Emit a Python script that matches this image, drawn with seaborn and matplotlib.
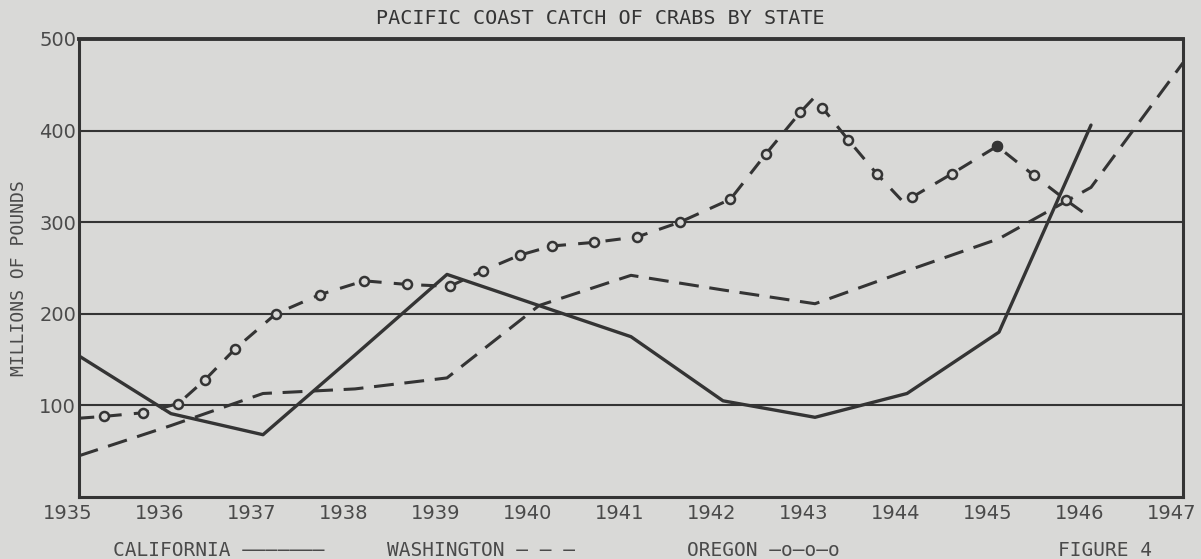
import numpy as np
import pandas as pd
import matplotlib
matplotlib.use("Agg")
import matplotlib.pyplot as plt
import matplotlib.transforms as mtransforms
import seaborn as sns

# values (millions of pounds)
cal_years = [1935, 1936, 1937, 1938, 1939, 1940, 1941, 1942, 1943, 1944, 1945, 1946]
cal_catch = [154, 91, 68, 155, 243, 209, 175, 105, 87, 113, 180, 406]

wash_years = [1935, 1936, 1937, 1938, 1939, 1940, 1941, 1942, 1943, 1944, 1945, 1946, 1947]
wash_catch = [45, 78, 113, 118, 130, 209, 242, 226, 211, 247, 282, 338, 474]

# oregon was plotted with extra in-between points
ore_years = [1935.0, 1935.27, 1935.70, 1936.08, 1936.37, 1936.70, 1937.14, 1937.62,
             1938.10, 1938.57, 1939.03, 1939.39, 1939.79, 1940.14, 1940.60, 1941.07,
             1941.53, 1942.08, 1942.47, 1942.84, 1943.00, 1943.08, 1943.36, 1943.67,
             1943.96, 1944.05, 1944.49, 1944.98, 1945.38, 1945.73, 1945.98]
ore_catch = [86, 88, 92, 102, 128, 162, 200, 221, 236, 232, 230, 247, 264, 274, 278, 284,
             300, 325, 375, 420, 437, 425, 390, 353, 322, 327, 353, 383, 351, 324, 306]
ore_circles = [1, 2, 3, 4, 5, 6, 7, 8, 9, 10, 11, 12, 13, 14, 15, 16, 17, 18, 19,
               21, 22, 23, 25, 26, 27, 28, 29]
ore_filled = [27]

year_ticks = list(range(1935, 1948))
y_ticks = [100, 200, 300, 400, 500]

paper = "#d9d9d7"
ink = "#343434"
text_col = "#4a4a4a"

sns.set_style("white", {"axes.facecolor": paper, "figure.facecolor": paper})

fig = plt.figure(figsize=(12.01, 5.59), dpi=100)
ax = fig.add_axes([79 / 1201, 62 / 559, 1104 / 1201, 458 / 559])
ax.set_facecolor(paper)

cal = pd.DataFrame({"year": cal_years, "catch": cal_catch})
wash = pd.DataFrame({"year": wash_years, "catch": wash_catch})
ore = pd.DataFrame({"year": ore_years, "catch": ore_catch})

sns.lineplot(data=cal, x="year", y="catch", ax=ax, color=ink, linewidth=2.4)
sns.lineplot(data=wash, x="year", y="catch", ax=ax, color=ink, linewidth=2.2,
             linestyle=(0, (6.5, 3.5)))
sns.lineplot(data=ore, x="year", y="catch", ax=ax, color=ink, linewidth=2.2,
             linestyle=(0, (5, 4)), marker="o", markevery=ore_circles,
             markersize=6.5, markerfacecolor=paper, markeredgecolor=ink,
             markeredgewidth=1.8)
filled = ore.iloc[ore_filled]
ax.plot(filled["year"], filled["catch"], "o", color=ink, markersize=7)

ax.set_xlim(1935, 1947)
ax.set_ylim(0, 500)
ax.set_xticks(year_ticks)
ax.set_xticklabels([str(y) for y in year_ticks], fontsize=14, color=text_col,
                   family="DejaVu Sans")
ax.set_yticks(y_ticks)
ax.set_yticklabels([str(v) for v in y_ticks], fontsize=14, color=text_col,
                   family="DejaVu Sans")
ax.tick_params(axis="x", direction="in", length=33, width=1.8, color=ink, pad=5)
ax.tick_params(axis="y", length=0, pad=2)

# the hand lettering sits a little left of each tick
shift = mtransforms.ScaledTranslation(-11 / 100, 0, fig.dpi_scale_trans)
for lab in ax.get_xticklabels():
    lab.set_transform(lab.get_transform() + shift)

ax.yaxis.grid(True, color=ink, linewidth=1.5)
ax.xaxis.grid(False)
ax.set_axisbelow(True)
for side in ["left", "right", "bottom", "top"]:
    ax.spines[side].set_visible(True)
    ax.spines[side].set_color(ink)
    ax.spines[side].set_linewidth(2.2)
ax.spines["top"].set_linewidth(2.8)

ax.set_xlabel("")
ax.set_ylabel("MILLIONS OF POUNDS", fontsize=13, color=text_col, family="DejaVu Sans Mono")
ax.yaxis.set_label_coords(-0.046, 0.478)

fig.text(0.4996, 1 - 18 / 559, "PACIFIC COAST CATCH OF CRABS BY STATE", ha="center",
         va="center", fontsize=14.5, color=ink, family="DejaVu Sans Mono")

leg_y = 1 - 551 / 559
fig.text(113 / 1201, leg_y, "CALIFORNIA \u2014\u2014\u2014\u2014\u2014\u2014\u2014",
         ha="left", va="center", fontsize=14, color=text_col, family="DejaVu Sans Mono")
fig.text(387 / 1201, leg_y, "WASHINGTON \u2014 \u2014 \u2014", ha="left", va="center",
         fontsize=14, color=text_col, family="DejaVu Sans Mono")
fig.text(687 / 1201, leg_y, "OREGON \u2014o\u2014o\u2014o", ha="left", va="center",
         fontsize=14, color=text_col, family="DejaVu Sans Mono")
fig.text(1058 / 1201, leg_y, "FIGURE 4", ha="left", va="center", fontsize=14,
         color=text_col, family="DejaVu Sans Mono")

fig.savefig("out.png", dpi=100, facecolor=paper)
